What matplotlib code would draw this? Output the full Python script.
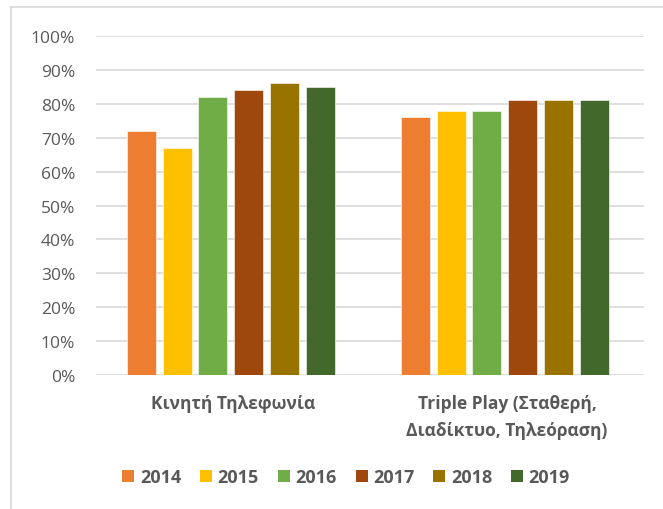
import matplotlib
matplotlib.use("Agg")
import matplotlib.pyplot as plt
from matplotlib.lines import Line2D
from matplotlib.patches import Patch
import numpy as np

categories = ["Κινητή Τηλεφωνία", "Triple Play (Σταθερή,\nΔιαδίκτυο, Τηλεόραση)"]
years = ["2014", "2015", "2016", "2017", "2018", "2019"]
values = {
    "2014": [72, 76],
    "2015": [67, 78],
    "2016": [82, 78],
    "2017": [84, 81],
    "2018": [86, 81],
    "2019": [85, 81],
}
colors = ["#ED7D31", "#FFC000", "#70AD47", "#9E480E", "#997300", "#43682B"]
yticks = [0, 10, 20, 30, 40, 50, 60, 70, 80, 90, 100]

plt.rcParams['font.family'] = ['Open Sans', 'DejaVu Sans']

fig = plt.figure(figsize=(6.63, 5.10), dpi=100)
ax = fig.add_axes([96/663, 1-376/510, 548/663, 339/510])

x = np.arange(len(categories))
slot = 0.1305
bw = 0.106
n = len(years)
for i, (y, c) in enumerate(zip(years, colors)):
    ax.bar(x + (i - (n-1)/2) * slot - 0.008, values[y], width=bw, color=c,
           edgecolor='white', linewidth=0.4, zorder=3)

ax.set_xlim(-0.5, 1.5)
ax.set_ylim(0, 100)
ax.set_yticks(yticks)
ax.set_yticklabels([f"{t}%" for t in yticks], color="#595959", fontsize=12.5)
ax.yaxis.grid(True, color="#D9D9D9", linewidth=1.2, zorder=0)
ax.tick_params(axis='y', length=0, pad=15)
ax.set_xticks(x)
ax.set_xticklabels(categories, fontsize=12.5, fontweight='bold', color="#595959",
                   linespacing=1.6, va='top')
ax.tick_params(axis='x', length=0, pad=14)
for s in ax.spines.values():
    s.set_visible(False)

handles = [Patch(facecolor=c, edgecolor='none') for c in colors]
fig.legend(handles, years, loc='center', bbox_to_anchor=(0.522, 1-478/510),
           ncol=6, frameon=False, prop={'weight': 'bold', 'size': 13},
           handlelength=0.67, handleheight=0.67, handletextpad=0.3, columnspacing=1.05,
           labelcolor="#595959")

# figure border (partial, cropped chart area)
fig.add_artist(Line2D([11/663, 11/663], [0, 1-8/510], transform=fig.transFigure,
                      color="#D9D9D9", linewidth=1.2))
fig.add_artist(Line2D([11/663, 1], [1-8/510, 1-8/510], transform=fig.transFigure,
                      color="#D9D9D9", linewidth=1.2))

fig.savefig("out.png", dpi=100)
